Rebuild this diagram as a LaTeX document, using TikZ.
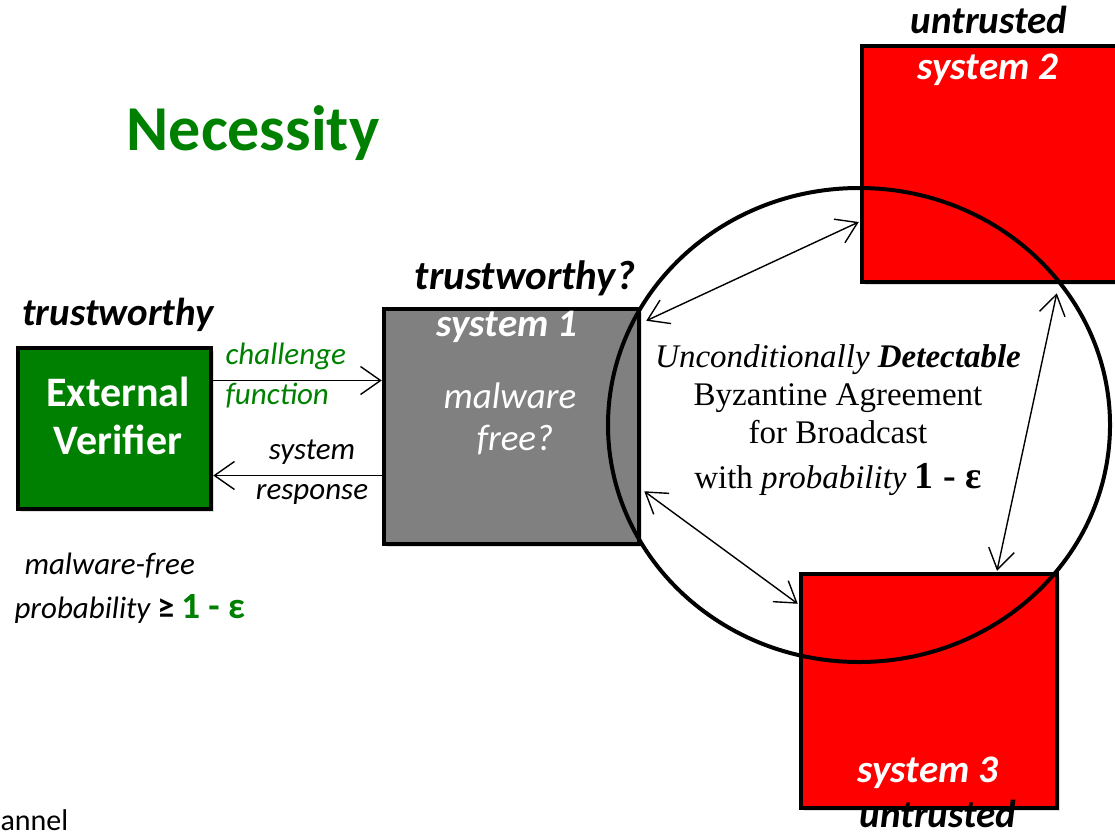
\documentclass[tikz,border=0pt]{standalone}
\usepackage{fontspec}
\setmainfont{Carlito}
\newfontfamily\cmbfont{Liberation Serif}
\usetikzlibrary{arrows.meta,shapes.geometric,shadows}
\definecolor{vgreen}{RGB}{0,128,0}
\definecolor{boxgray}{RGB}{128,128,128}
\definecolor{sysred}{RGB}{255,0,0}
\newcommand{\pxsize}[2]{\fontsize{#1}{#2}\selectfont}

\begin{document}
\begin{tikzpicture}[x=1pt,y=-1pt,
    sysbox/.style={draw=black, line width=4.5pt, inner sep=0pt,
                   drop shadow={opacity=0.25, shadow xshift=3pt, shadow yshift=-3pt}},
    tag/.style={font=\bfseries\itshape\pxsize{39}{42}},
    note/.style={font=\itshape\pxsize{31}{40}},
    arr/.style={-{Straight Barb[length=20pt,width=28pt]}, line width=1.4pt},
    dbl/.style={{Straight Barb[length=20pt,width=26pt]}-{Straight Barb[length=20pt,width=26pt]},
                line width=1.4pt}
  ]
  \useasboundingbox (0,0) rectangle (1115,836);

  \node[font=\bfseries\pxsize{64}{70}, text=vgreen] (title) at (253,133) {Necessity};

  % boxes
  \node[sysbox, fill=vgreen, minimum width=193pt, minimum height=161pt] (ev) at (114.5,428.5) {};
  \node[sysbox, fill=boxgray, minimum width=255pt, minimum height=235pt] (sysone) at (511.5,426.5) {};
  \node[sysbox, fill=sysred, minimum width=262pt, minimum height=236pt] (systwo) at (993,164) {};
  \node[sysbox, fill=sysred, minimum width=256pt, minimum height=234pt] (systhree) at (929,691) {};

  % box texts
  \node[font=\bfseries\pxsize{42}{48}, text=white, align=center] (evtext) at (118,416) {External\\Verifier};
  \node[tag] (evtag) at (118,315) {trustworthy};
  \node[font=\bfseries\itshape\pxsize{41}{42}] (onetag) at (525,278) {trustworthy?};
  \node[tag, text=white] (onename) at (507,327) {system 1};
  \node[font=\itshape\pxsize{37}{42}, text=white, align=center] (onetext) at (510,419) {malware\\\hspace*{10pt}free?};
  \node[tag] (twotag) at (989,20) {untrusted};
  \node[tag, text=white] (twoname) at (988,70) {system 2};
  \node[tag, text=white] (threename) at (928,773) {system 3};
  \node[tag, inner sep=1pt] (threetag) at (938,814) {untrusted};

  % broadcast agreement
  \node[draw, ellipse, line width=4pt, minimum width=502pt, minimum height=474pt, inner sep=0pt] (bca) at (859,425) {};
  \node[font=\cmbfont\pxsize{33}{38}, align=center] (bcatext) at (838,420)
    {\textit{Unconditionally \textbf{Detectable}}\\Byzantine Agreement\\for Broadcast\\[7pt]
     with \textit{probability} {\bfseries\pxsize{38}{38}1 - ε}};

  % verifier channel
  \node[note, text=vgreen, anchor=west, align=left] (chal) at (222,376) {challenge\\function};
  \node[note, align=center] (resp) at (312,472) {system\\response};
  \draw[arr] ([yshift=48pt]ev.east) -- ([yshift=48pt]ev.east -| sysone.west);
  \draw[arr] ([yshift=-49pt]sysone.west) -- ([yshift=-49pt]sysone.west -| ev.east);

  \draw[dbl] ([shift={(5,14)}]sysone.north east) -- ([shift={(-1,58)}]systwo.west);
  \draw[dbl] ([shift={(3,-55)}]sysone.south east) -- ([shift={(-1,32)}]systhree.north west);
  \draw[dbl] ([shift={(197,9)}]systwo.south west) -- ([shift={(68,-1)}]systhree.north);

  \node[anchor=west, align=left, font=\itshape\pxsize{31}{44}] (prob) at (11,588)
    {\hspace*{10pt}malware-free\\probability {\upshape\bfseries\pxsize{34}{44}≥} {\upshape\bfseries\color{vgreen}\pxsize{37}{44}1 - ε}};
  \node[font=\pxsize{30}{32}, anchor=west] (chan) at (-3,820) {annel};
\end{tikzpicture}
\end{document}
